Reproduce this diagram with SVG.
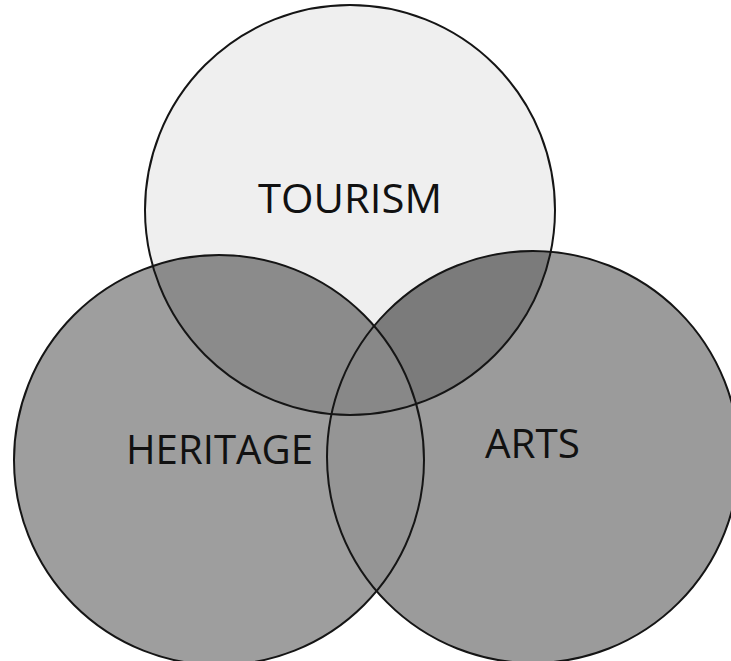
<svg xmlns="http://www.w3.org/2000/svg" xmlns:xlink="http://www.w3.org/1999/xlink" width="731" height="661" viewBox="0 0 731 661">
  <style>
    .ring { fill: none; stroke: #151515; stroke-width: 2; }
    .label { font-family: "Open Sans", "Liberation Sans", "DejaVu Sans", sans-serif; font-size: 41px; fill: #111111; }
  </style>
  <defs>
    <circle id="cT" cx="350" cy="210" r="205"/>
    <circle id="cH" cx="219" cy="460" r="205"/>
    <circle id="cA" cx="533" cy="457" r="206"/>
    <clipPath id="clipT"><use xlink:href="#cT"/></clipPath>
    <clipPath id="clipH"><use xlink:href="#cH"/></clipPath>
    <clipPath id="clipA"><use xlink:href="#cA"/></clipPath>
  </defs>

  <rect width="731" height="661" fill="#ffffff"/>

  <!-- base discs -->
  <g id="tourism">
    <use xlink:href="#cT" fill="#efefef"/>
  </g>
  <g id="heritage">
    <use xlink:href="#cH" fill="#9e9e9e"/>
  </g>
  <g id="arts">
    <use xlink:href="#cA" fill="#9b9b9b"/>
  </g>

  <!-- shaded overlaps -->
  <g id="overlaps">
    <use xlink:href="#cH" fill="#8b8b8b" clip-path="url(#clipT)"/>
    <use xlink:href="#cA" fill="#7b7b7b" clip-path="url(#clipT)"/>
    <use xlink:href="#cH" fill="#959595" clip-path="url(#clipA)"/>
    <g clip-path="url(#clipT)">
      <use xlink:href="#cH" fill="#888888" clip-path="url(#clipA)"/>
    </g>
  </g>

  <!-- circle outlines -->
  <g id="outlines">
    <use xlink:href="#cT" class="ring"/>
    <use xlink:href="#cH" class="ring"/>
    <use xlink:href="#cA" class="ring"/>
  </g>

  <!-- labels -->
  <g id="labels">
    <text id="label-tourism" class="label" x="258" y="213" textLength="184" lengthAdjust="spacingAndGlyphs">TOURISM</text>
    <text id="label-heritage" class="label" x="126" y="464" textLength="187" lengthAdjust="spacingAndGlyphs">HERITAGE</text>
    <text id="label-arts" class="label" x="485" y="458" textLength="95" lengthAdjust="spacingAndGlyphs">ARTS</text>
  </g>
</svg>
